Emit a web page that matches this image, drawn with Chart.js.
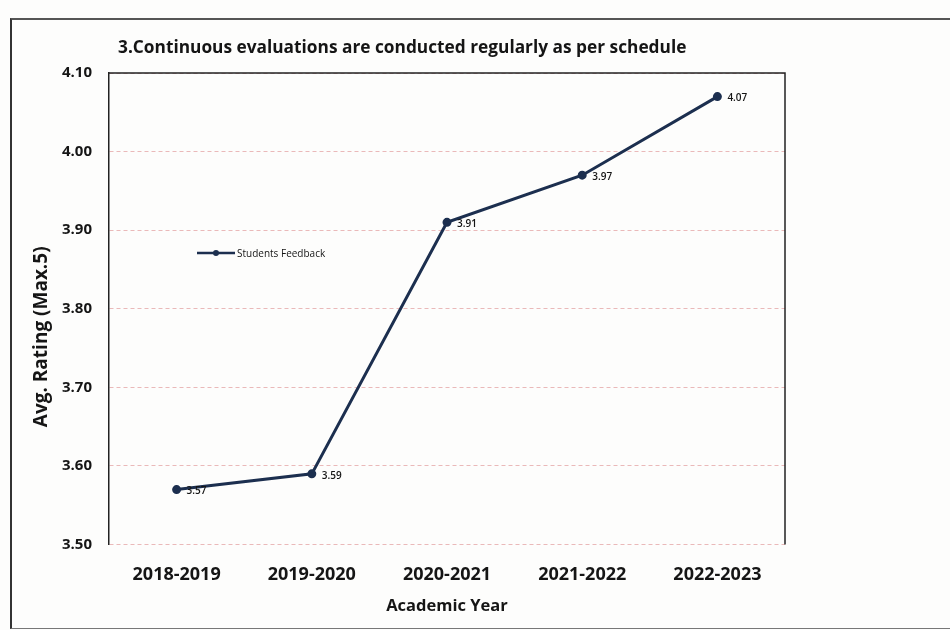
<!DOCTYPE html>
<html>
<head>
<meta charset="utf-8">
<title>Continuous evaluations</title>
<script src="https://cdn.jsdelivr.net/npm/chart.js@4.4.1/dist/chart.umd.min.js"></script>
<style>
    html, body {
        margin: 0;
        padding: 0;
        background: #fdfdfc;
    }
    .sheet {
        position: absolute;
        left: 10px;
        top: 18px;
        width: 960px;
        height: 608px;
        border-left: 2px solid #333;
        border-top: 2px solid #555;
        border-bottom: 1px solid #777;
    }
    .chart-box {
        position: absolute;
        left: 0;
        top: 0;
        width: 950px;
        height: 630px;
    }
</style>
</head>
<body>
<div class="sheet"></div>
<div class="chart-box">
    <canvas id="feedbackChart" width="950" height="630"></canvas>
</div>
<script>
// Chart data
const years = ['2018-2019', '2019-2020', '2020-2021', '2021-2022', '2022-2023'];
const ratings = [3.57, 3.59, 3.91, 3.97, 4.07];
const seriesName = 'Students Feedback';
const chartTitle = '3.Continuous evaluations are conducted regularly as per schedule';
const yTitle = 'Avg. Rating (Max.5)';
const xTitle = 'Academic Year';
const yMin = 3.5;
const yMax = 4.1;
const yStep = 0.1;

const lineColor = '#1c2f4f';
const textColor = '#151515';
const fontName = "'Open Sans'";

// Titles, frame lines, point labels and the legend inside the plot
const excelLook = {
    id: 'excelLook',
    afterDatasetsDraw(chart) {
        const ctx = chart.ctx;
        const area = chart.chartArea;

        ctx.save();
        // chart title, left aligned a little inside the plot
        ctx.fillStyle = textColor;
        ctx.font = 'bold 17.3px ' + fontName;
        ctx.textAlign = 'left';
        ctx.textBaseline = 'middle';
        ctx.fillText(chartTitle, area.left + 9, area.top - 25);

        // value axis title (sits a bit below the middle, like the original)
        ctx.save();
        ctx.translate(area.left - 67, (area.top + area.bottom) / 2 + 28);
        ctx.rotate(-Math.PI / 2);
        ctx.textAlign = 'center';
        ctx.font = 'bold 19px ' + fontName;
        ctx.fillText(yTitle, 0, 0);
        ctx.restore();

        // top and right border of the plot area
        ctx.strokeStyle = '#222';
        ctx.lineWidth = 1.5;
        ctx.beginPath();
        ctx.moveTo(area.left, area.top);
        ctx.lineTo(area.right, area.top);
        ctx.lineTo(area.right, area.bottom);
        ctx.stroke();

        // value labels next to each point
        const meta = chart.getDatasetMeta(0);
        ctx.font = '600 10px ' + fontName;
        meta.data.forEach(function(pt, i) {
            ctx.fillText(ratings[i].toFixed(2), pt.x + 10, pt.y + 2);
        });

        // legend
        const lx = area.left + 88;
        const ly = area.top + 180;
        ctx.strokeStyle = lineColor;
        ctx.lineWidth = 2.5;
        ctx.beginPath();
        ctx.moveTo(lx, ly);
        ctx.lineTo(lx + 38, ly);
        ctx.stroke();
        ctx.fillStyle = lineColor;
        ctx.beginPath();
        ctx.arc(lx + 19, ly, 3, 0, Math.PI * 2);
        ctx.fill();
        ctx.fillStyle = textColor;
        ctx.font = '10px ' + fontName;
        ctx.fillText(seriesName, lx + 40, ly + 1);
        ctx.restore();
    }
};

const ctx = document.getElementById('feedbackChart').getContext('2d');
new Chart(ctx, {
    type: 'line',
    data: {
        labels: years,
        datasets: [{
            label: seriesName,
            data: ratings,
            borderColor: lineColor,
            backgroundColor: lineColor,
            borderWidth: 3,
            pointRadius: 3,
            pointBackgroundColor: lineColor,
            pointBorderColor: lineColor,
            tension: 0
        }]
    },
    options: {
        responsive: false,
        animation: false,
        layout: {
            padding: { left: 45, right: 165, top: 73, bottom: 10 }
        },
        plugins: {
            legend: { display: false },
            tooltip: { enabled: false },
            title: { display: false }
        },
        scales: {
            x: {
                offset: true,
                grid: { display: false },
                border: { display: false },
                ticks: {
                    color: textColor,
                    padding: 11,
                    maxRotation: 0,
                    font: { family: fontName, size: 18, weight: 'bold' }
                },
                title: {
                    display: true,
                    text: xTitle,
                    color: textColor,
                    font: { family: fontName, size: 16.5, weight: 'bold' },
                    padding: { top: 0, bottom: 4 }
                }
            },
            y: {
                min: yMin,
                max: yMax,
                grid: {
                    color: 'rgba(222, 140, 140, 0.6)',
                    lineWidth: 1,
                    drawTicks: false
                },
                border: {
                    display: true,
                    color: '#222',
                    width: 1.5,
                    dash: [4, 3]
                },
                ticks: {
                    stepSize: yStep,
                    color: textColor,
                    padding: 17,
                    font: { family: fontName, size: 15, weight: 'bold' },
                    callback: function(value) {
                        return value.toFixed(2);
                    }
                }
            }
        }
    },
    plugins: [excelLook]
});
</script>
</body>
</html>
